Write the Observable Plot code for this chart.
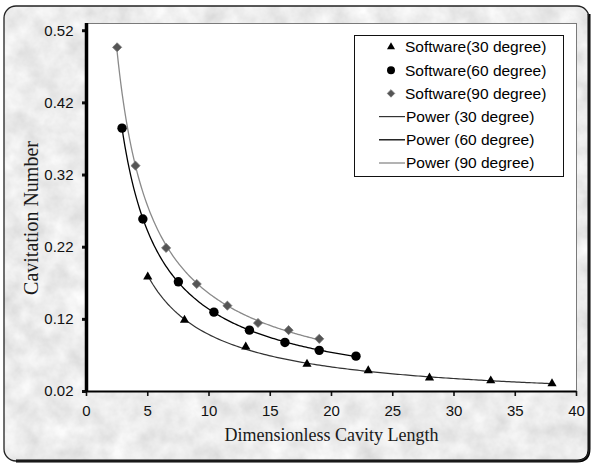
<!DOCTYPE html>
<html>
<head>
<meta charset="utf-8">
<script src="https://cdn.jsdelivr.net/npm/d3@7"></script>
<script src="https://cdn.jsdelivr.net/npm/@observablehq/plot@0.6"></script>
<style>
  html, body { margin: 0; padding: 0; background: #ffffff; }
  #chart { position: relative; width: 594px; height: 465px; overflow: hidden; }
  #chart > svg { position: absolute; left: 0; top: 0; }
</style>
</head>
<body>
<div id="chart"></div>
<script>
// Measured cavitation number against dimensionless cavity length, per wedge angle
const x30 = [5, 8, 13, 18, 23, 28, 33, 38];
const y30 = [0.179, 0.119, 0.082, 0.058, 0.049, 0.039, 0.035, 0.031];

const x60 = [2.9, 4.6, 7.5, 10.4, 13.3, 16.2, 19, 22];
const y60 = [0.385, 0.259, 0.172, 0.130, 0.105, 0.088, 0.077, 0.069];

const x90 = [2.5, 4, 6.5, 9, 11.5, 14, 16.5, 19];
const y90 = [0.497, 0.333, 0.219, 0.169, 0.139, 0.115, 0.105, 0.093];

const xTicks = [0, 5, 10, 15, 20, 25, 30, 35, 40];
const yTicks = [0.02, 0.12, 0.22, 0.32, 0.42, 0.52];

const seriesNames = ["Software(30 degree)", "Software(60 degree)", "Software(90 degree)"];
const trendNames = ["Power (30 degree)", "Power (60 degree)", "Power (90 degree)"];

const W = 594, H = 465;

function points(xs, ys, series) {
  return xs.map((x, i) => ({x, y: ys[i], series}));
}

// Least-squares power law y = a·x^b fitted in log–log space, sampled over the data range
function powerTrend(xs, ys, series) {
  const lx = xs.map(Math.log), ly = ys.map(Math.log);
  const mx = d3.mean(lx), my = d3.mean(ly);
  const b = d3.sum(lx, (v, i) => (v - mx) * (ly[i] - my)) / d3.sum(lx, v => (v - mx) ** 2);
  const a = Math.exp(my - b * mx);
  const [x0, x1] = d3.extent(xs);
  return d3.range(0, 161).map(i => {
    const x = x0 + (x1 - x0) * i / 160;
    return {x, y: a * Math.pow(x, b), series};
  });
}

const p30 = points(x30, y30, seriesNames[0]);
const p60 = points(x60, y60, seriesNames[1]);
const p90 = points(x90, y90, seriesNames[2]);
const t30 = powerTrend(x30, y30, trendNames[0]);
const t60 = powerTrend(x60, y60, trendNames[1]);
const t90 = powerTrend(x90, y90, trendNames[2]);

const sansFont = "'Liberation Sans', Arial, Helvetica, sans-serif";
const serifFont = "'Liberation Serif', 'Times New Roman', Times, serif";

const chart = document.getElementById("chart");

// Textured grey card with a rounded, shadowed border
const bg = d3.create("svg").attr("width", W).attr("height", H);
const defs = bg.append("defs");
const f = defs.append("filter").attr("id", "grain").attr("x", 0).attr("y", 0).attr("width", "100%").attr("height", "100%");
f.append("feTurbulence").attr("type", "fractalNoise").attr("baseFrequency", 0.045).attr("numOctaves", 4).attr("seed", 7);
f.append("feColorMatrix").attr("type", "matrix")
  .attr("values", "0.36 0 0 0 0.66  0.36 0 0 0 0.66  0.36 0 0 0 0.66  0 0 0 0 1");
defs.append("clipPath").attr("id", "card")
  .append("rect").attr("x", 4).attr("y", 6).attr("width", 585).attr("height", 455).attr("rx", 12);
bg.append("rect").attr("width", W).attr("height", H).attr("fill", "#ffffff");
bg.append("rect").attr("x", 4).attr("y", 6).attr("width", 585).attr("height", 455)
  .attr("clip-path", "url(#card)").attr("filter", "url(#grain)");
// shadow edge on right and bottom
bg.append("path").attr("d", "M 589 14 L 589 449 Q 589 461 577 461 L 16 461")
  .attr("fill", "none").attr("stroke", "#000").attr("stroke-width", 3);
bg.append("rect").attr("x", 4).attr("y", 6).attr("width", 585).attr("height", 455).attr("rx", 12)
  .attr("fill", "none").attr("stroke", "#222").attr("stroke-width", 1.3);
chart.appendChild(bg.node());

const plot = Plot.plot({
  width: W,
  height: H,
  marginLeft: 86,
  marginRight: 18,
  marginTop: 23,
  marginBottom: 74,
  style: {background: "transparent", fontFamily: sansFont, fontSize: "14px", color: "#111"},
  x: {domain: [0, 40], ticks: xTicks, label: null},
  y: {domain: [0.02, 0.53], ticks: yTicks, label: null},
  marks: [
    Plot.frame({fill: "white", stroke: "#7a7a7a", strokeWidth: 1}),
    Plot.axisX({ticks: xTicks, tickSize: 5, tickPadding: 9, strokeWidth: 1.6, fontSize: 15, label: null}),
    Plot.axisY({ticks: yTicks, tickFormat: d3.format(".2f"), tickSize: 4, tickPadding: 9, strokeWidth: 3, fontSize: 15, label: null}),
    Plot.ruleX([0], {stroke: "#000", strokeWidth: 3.5}),
    Plot.ruleY([0.02], {stroke: "#000", strokeWidth: 2}),
    Plot.line(t90, {x: "x", y: "y", stroke: "#8a8a8a", strokeWidth: 1.3}),
    Plot.line(t60, {x: "x", y: "y", stroke: "#000", strokeWidth: 1.3}),
    Plot.line(t30, {x: "x", y: "y", stroke: "#333", strokeWidth: 1.2}),
    Plot.dot(p30, {x: "x", y: "y", symbol: "triangle", r: 3.4, fill: "#000", stroke: "none"}),
    Plot.dot(p60, {x: "x", y: "y", symbol: "circle", r: 4.7, fill: "#000", stroke: "none"}),
    Plot.dot(p90, {x: "x", y: "y", symbol: "diamond2", r: 4.1, fill: "#555", stroke: "#777", strokeWidth: 0.8}),
    Plot.text(["Dimensionless Cavity Length"], {
      text: d => d, frameAnchor: "bottom", dy: 49,
      fontFamily: serifFont, fontSize: 18, fill: "#1a1a1a"
    })
  ]
});
chart.appendChild(plot);

const svg = d3.select(plot);

// Vertical axis title
svg.append("text")
  .attr("transform", "translate(31,218) rotate(-90)")
  .attr("text-anchor", "middle").attr("dy", "0.35em")
  .attr("font-family", serifFont).attr("font-size", 20).attr("fill", "#1a1a1a")
  .text("Cavitation Number");

// Legend box in the upper right of the plotting area
const lg = svg.append("g").attr("font-family", sansFont).attr("font-size", 15.5)
  .attr("fill", "#000").attr("text-anchor", "start");
lg.append("rect").attr("x", 354.5).attr("y", 35.5).attr("width", 209).attr("height", 141)
  .attr("fill", "#fff").attr("stroke", "#111").attr("stroke-width", 1);

const rowY = [47, 70.2, 93.4, 116.6, 139.8, 163];
const symbols = [
  {type: d3.symbolTriangle, r: 3.0, fill: "#000", stroke: "none"},
  {type: d3.symbolCircle, r: 4.0, fill: "#000", stroke: "none"},
  {type: d3.symbolDiamond2, r: 3.4, fill: "#555", stroke: "#777"}
];
symbols.forEach((s, i) => {
  lg.append("path")
    .attr("d", d3.symbol(s.type, Math.PI * s.r * s.r)())
    .attr("transform", `translate(391,${rowY[i]})`)
    .attr("fill", s.fill).attr("stroke", s.stroke).attr("stroke-width", 0.8);
  lg.append("text").attr("x", 405).attr("y", rowY[i]).attr("dy", "0.35em").text(seriesNames[i]);
});
const trendStyles = [
  {stroke: "#333", width: 1.2},
  {stroke: "#000", width: 1.3},
  {stroke: "#8a8a8a", width: 1.3}
];
trendStyles.forEach((s, i) => {
  const y = rowY[i + 3];
  lg.append("line").attr("x1", 379).attr("x2", 405).attr("y1", y).attr("y2", y)
    .attr("stroke", s.stroke).attr("stroke-width", s.width);
  lg.append("text").attr("x", 406).attr("y", y).attr("dy", "0.35em").text(trendNames[i]);
});
</script>
</body>
</html>
